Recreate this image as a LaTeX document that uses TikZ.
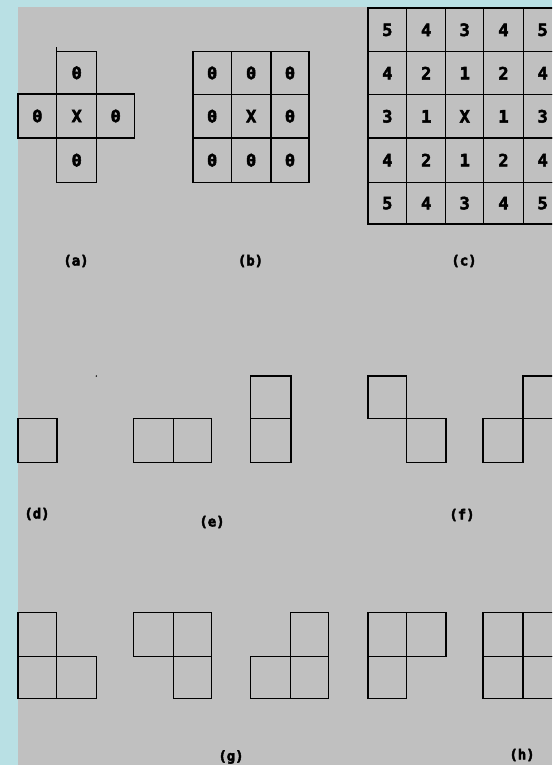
\documentclass[tikz,border=0pt]{standalone}
\usepackage{fontspec}
\newfontfamily\pixfont{DejaVu Sans Mono}[BoldFont={DejaVu Sans Mono Bold},BoldFeatures={FakeBold=3}]
\definecolor{bgblue}{RGB}{185,224,228}
\definecolor{bggray}{RGB}{192,192,192}
\tikzset{
  gridline/.style={draw=black,line width=1.2pt},
  digit/.style={font=\pixfont\bfseries\fontsize{17}{17}\selectfont,inner sep=0pt},
  lbl/.style={font=\pixfont\bfseries\fontsize{14}{14}\selectfont,inner sep=0pt},
}
\newcommand\cellbox[6]{%
  \draw[gridline] (#1,#2) rectangle (#3,#4);
  \node[digit] (#6) at ({(#1+#3)/2},{(#2+#4)/2}) {#5};}
\newcommand\sqbox[4]{\draw[gridline] (#1,#2) rectangle (#3,#4);}
\begin{document}
\begin{tikzpicture}[x=1pt,y=-1pt]
\useasboundingbox (0,0) rectangle (552,765);
\clip (0,0) rectangle (552,765);
\fill[bgblue] (0,0) rectangle (552,765);
\fill[bggray] (18,7) rectangle (552,765);
% (a)
\draw[gridline] (56.7,47.3) -- (56.7,51.7);
\cellbox{56.7}{51.7}{96.7}{94}{0}{a1}
\cellbox{18}{94}{56.7}{138}{0}{a2}
\cellbox{56.7}{94}{96.7}{138}{X}{a3}
\cellbox{96.7}{94}{134.7}{138}{0}{a4}
\cellbox{56.7}{138}{96.7}{182.3}{0}{a5}
% (b)
\cellbox{193}{51.7}{231.3}{94.3}{0}{b11}
\cellbox{231.3}{51.7}{271}{94.3}{0}{b12}
\cellbox{271}{51.7}{309}{94.3}{0}{b13}
\cellbox{193}{94.3}{231.3}{138}{0}{b21}
\cellbox{231.3}{94.3}{271}{138}{X}{b22}
\cellbox{271}{94.3}{309}{138}{0}{b23}
\cellbox{193}{138}{231.3}{182.3}{0}{b31}
\cellbox{231.3}{138}{271}{182.3}{0}{b32}
\cellbox{271}{138}{309}{182.3}{0}{b33}
% (c)
\def\cx{{368,406.7,445.7,483.7,523.3,562}}
\def\cy{{8,51.7,94.7,138,182.3,224}}
\foreach \r/\row in {0/{5,4,3,4,5},1/{4,2,1,2,4},2/{3,1,X,1,3},3/{4,2,1,2,4},4/{5,4,3,4,5}}{
  \foreach \v [count=\c from 0] in \row {
    \pgfmathsetmacro\xa{\cx[\c]}
    \pgfmathsetmacro\xb{\cx[\c+1]}
    \pgfmathsetmacro\ya{\cy[\r]}
    \pgfmathsetmacro\yb{\cy[\r+1]}
    \cellbox{\xa}{\ya}{\xb}{\yb}{\v}{c\r\c}
  }
}
\node[lbl] (la) at (76,261) {(a)};
\node[lbl] (lb) at (250.5,261) {(b)};
\node[lbl] (lc) at (464,261) {(c)};
% row 2
\fill[black] (96.3,376) circle (0.8);
\sqbox{18}{418.3}{57}{462.3}
\sqbox{133.7}{418.3}{173.3}{462.3}
\sqbox{173.3}{418.3}{211.7}{462.3}
\sqbox{250.7}{376}{291}{418.3}
\sqbox{250.7}{418.3}{291}{462.3}
\sqbox{368}{376}{406.3}{418.3}
\sqbox{406.3}{418.3}{446}{462.3}
\sqbox{483}{418.3}{523}{462.3}
\sqbox{523}{376}{562}{418.3}
\node[lbl] (ld) at (37,514) {(d)};
\node[lbl] (le) at (212,522) {(e)};
\node[lbl] (lf) at (462,515) {(f)};
% row 3
\sqbox{18}{612.3}{56.7}{656.7}
\sqbox{18}{656.7}{56.7}{698.3}
\sqbox{56.7}{656.7}{96.7}{698.3}
\sqbox{133.7}{612.3}{173.3}{656.7}
\sqbox{173.3}{612.3}{211.7}{656.7}
\sqbox{173.3}{656.7}{211.7}{698.3}
\sqbox{250.7}{656.7}{290.3}{698.3}
\sqbox{290.3}{656.7}{328.7}{698.3}
\sqbox{290.3}{612.3}{328.7}{656.7}
\sqbox{368}{612.3}{406.3}{656.7}
\sqbox{406.3}{612.3}{446}{656.7}
\sqbox{368}{656.7}{406.3}{698.3}
\sqbox{483}{612.3}{523}{656.7}
\sqbox{523}{612.3}{562}{656.7}
\sqbox{483}{656.7}{523}{698.3}
\sqbox{523}{656.7}{562}{698.3}
\node[lbl] (lg) at (231,757) {(g)};
\node[lbl] (lh) at (522,755) {(h)};
\end{tikzpicture}
\end{document}
